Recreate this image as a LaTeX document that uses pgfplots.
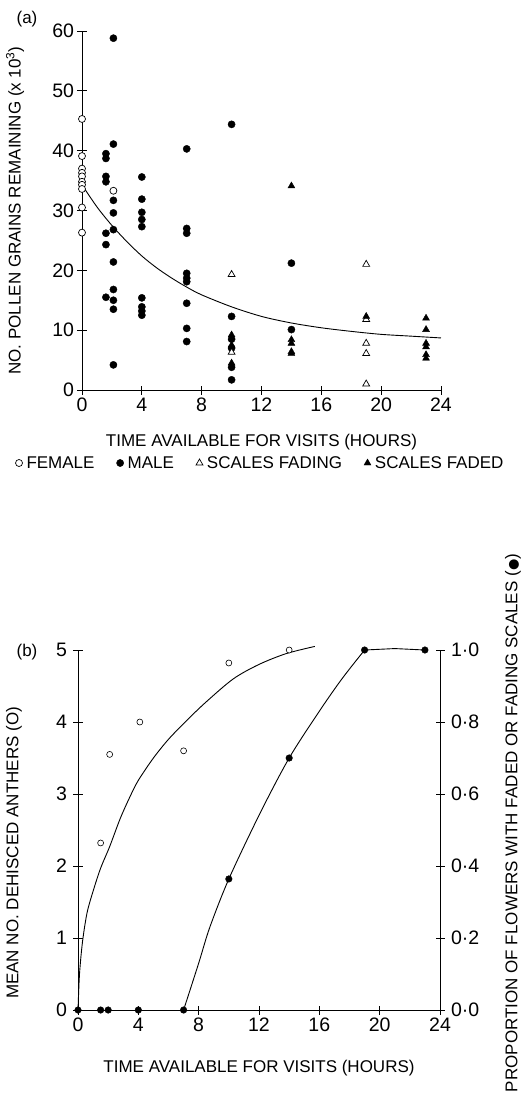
\documentclass[border=0pt]{standalone}
\usepackage{pgfplots}
\pgfplotsset{compat=1.18}
\usepackage{fontspec}
\setmainfont{Liberation Sans}
\newfontfamily\dejavu{DejaVu Sans}
\begin{document}
\begin{tikzpicture}
\useasboundingbox (0pt,0pt) rectangle (522pt,-1111pt);
\def\labfont{\fontsize{17}{20}\selectfont}
\pgfplotsset{
  every axis/.append style={
    scale only axis, enlargelimits=false,
    axis line style={-, line width=0.8pt},
    tick align=center, major tick length=9pt,
    every tick/.style={line width=0.8pt, black},
    tick label style={font=\fontsize{19.5}{20}\selectfont},
    /pgf/number format/assume math mode=true,
    clip=false,
  },
}
% ---------------- panel (a)
\begin{axis}[at={(82pt,-390pt)}, anchor=south west, width=359pt, height=359pt,
  xmin=0,xmax=24,ymin=0,ymax=60, axis x line*=bottom, axis y line*=left,
  xtick={0,4,...,24}, ytick={0,10,...,60},
  xlabel={TIME AVAILABLE FOR VISITS (HOURS)},
  ylabel={NO. POLLEN GRAINS REMAINING (x 10\textsuperscript{3})},
  every axis x label/.style={at={(axis description cs:0.5,0)}, anchor=center, yshift=-52pt, font=\labfont},
  every axis y label/.style={at={(axis description cs:0,0.5)}, xshift=-67pt, rotate=90, anchor=center, font=\labfont},
  legend columns=4,
  legend style={draw=none, at={(axis description cs:0.5,0)}, anchor=center, yshift=-73pt,
    font=\labfont, nodes={inner xsep=4pt},
    /tikz/every even column/.append style={column sep=18pt}},
  legend cell align=left,
]
\addplot[only marks, mark=*, mark size=3.5pt, mark options={fill=white, draw=black, line width=0.7pt}] coordinates {
(0,45.3) (0,39.1) (0,37.0) (0,36.3) (0,35.7) (0,34.8) (0,34.3) (0,33.6) (0,30.5) (0,26.3) (2.1,33.3)};
\addlegendentry{FEMALE}
\addplot[only marks, mark=*, mark size=3.6pt, mark options={fill=black, draw=black}] coordinates {
(1.6,39.5) (1.6,38.7) (1.6,35.7) (1.6,34.8) (1.6,26.2) (1.6,24.3) (1.6,15.5)
(2.1,58.8) (2.1,41.1) (2.1,31.7) (2.1,29.6) (2.1,26.8) (2.1,21.4) (2.1,16.8) (2.1,15.0) (2.1,13.5) (2.1,4.2)
(4,35.6) (4,31.9) (4,29.7) (4,28.5) (4,27.3) (4,15.4) (4,13.9) (4,13.2) (4,12.5)
(7,40.3) (7,27.0) (7,26.2) (7,19.5) (7,18.7) (7,18.1) (7,14.5) (7,10.3) (7,8.1)
(10,44.4) (10,12.3) (10,8.5) (10,7.0) (10,3.8) (10,1.7)
(14,21.2) (14,10.1)};
\addlegendentry{MALE}
\addplot[only marks, mark=triangle*, mark size=4pt, mark options={fill=white, draw=black, line width=0.7pt}] coordinates {
(10,19.3) (10,6.3) (19,21.0) (19,11.8) (19,7.8) (19,6.1) (19,1.0)};
\addlegendentry{SCALES FADING}
\addplot[only marks, mark=triangle*, mark size=4pt, mark options={fill=black, draw=black}] coordinates {
(10,9.2) (10,7.5) (10,4.5) (14,34.1) (14,8.4) (14,7.8) (14,6.4) (14,6.1) (19,12.3)
(23,12.0) (23,10.1) (23,7.8) (23,7.2) (23,5.9) (23,5.3)};
\addlegendentry{SCALES FADED}
\addplot[smooth, black, line width=0.9pt, no marks, forget plot] coordinates {
(0,34.3) (1,30.6) (2,27.5) (3,24.8) (4,22.4) (5,20.4) (6,18.7) (7,17.2) (8,15.9)
(10,13.9) (12,12.3) (14,11.2) (16,10.4) (18,9.8) (20,9.3) (22,9.0) (24,8.7)};
\end{axis}
\node[font=\labfont] at (27pt,-19pt) {(a)};
% ---------------- panel (b)
\begin{axis}[at={(78pt,-1010pt)}, anchor=south west, width=362pt, height=360pt,
  xmin=0,xmax=24,ymin=0,ymax=5, axis x line*=bottom, axis y line*=left,
  xtick={0,4,...,24}, ytick={0,1,...,5},
  xlabel={TIME AVAILABLE FOR VISITS (HOURS)},
  ylabel={MEAN NO. DEHISCED ANTHERS (O)},
  every axis x label/.style={at={(axis description cs:0.5,0)}, anchor=center, yshift=-58pt, font=\labfont},
  every axis y label/.style={at={(axis description cs:0,0.5)}, xshift=-64pt, yshift=-23pt, rotate=90, anchor=center, font=\labfont},
  yticklabel style={xshift=-3pt},
]
\addplot[smooth, black, line width=0.9pt, no marks] coordinates {
(0,0) (0.1,0.5) (0.3,0.95) (0.6,1.35) (1.0,1.65) (1.5,1.97) (2.1,2.27) (2.8,2.66) (3.44,2.96) (4.0,3.19)
(5,3.50) (6,3.76) (7.2,4.02) (8.5,4.28) (10.3,4.6) (12,4.8) (13.8,4.95) (15.7,5.05)};
\addplot[only marks, mark=*, mark size=3pt, mark options={fill=white, draw=black, line width=0.6pt}] coordinates {
(1.5,2.32) (2.1,3.55) (4.1,4.0) (7.0,3.60) (10,4.82) (14,5.0)};
\end{axis}
\begin{axis}[at={(78pt,-1010pt)}, anchor=south west, width=362pt, height=360pt,
  xmin=0,xmax=24,ymin=0,ymax=1, axis x line=none, axis y line*=right,
  ytick={0,0.2,0.4,0.6,0.8,1}, yticklabels={0·0,0·2,0·4,0·6,0·8,1·0},
  yticklabel style={xshift=3pt},
  ylabel={PROPORTION OF FLOWERS WITH FADED OR FADING SCALES ({\dejavu\fontsize{13}{13}\selectfont ●})},
  every axis y label/.style={at={(axis description cs:1,0.5)}, xshift=73pt, yshift=7pt, rotate=90, anchor=center, font=\labfont},
]
\addplot[black, line width=0.9pt, no marks] coordinates {(0,0) (7,0)};
\addplot[smooth, black, line width=0.9pt, no marks] coordinates {
(7,0) (8,0.13) (8.74,0.23) (10,0.364) (12.05,0.545) (14,0.70) (16,0.83) (17.5,0.92) (19,1.0)};
\addplot[black, line width=0.9pt, no marks] coordinates {(19,1.0) (21,1.004) (23,1.0)};
\addplot[only marks, mark=*, mark size=3.3pt, mark options={fill=black}] coordinates {
(0,0) (1.5,0) (2,0) (4,0) (7,0) (10,0.364) (14,0.70) (19,1.0) (23,1.0)};
\end{axis}
\node[font=\labfont] at (27pt,-652pt) {(b)};
\end{tikzpicture}
\end{document}
